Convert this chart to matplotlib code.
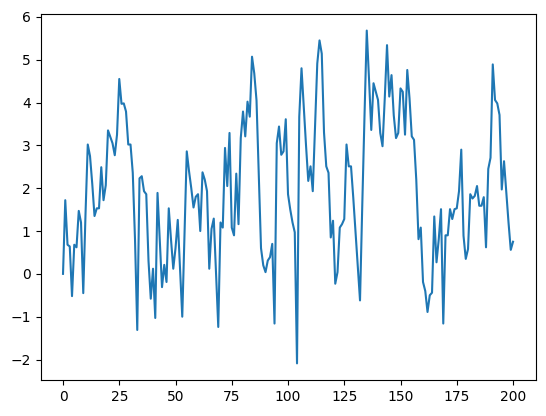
import matplotlib
matplotlib.use("Agg")
import matplotlib.pyplot as plt
import numpy as np

# values, one per step 0..200
steps = np.arange(201)
values = [
    0.0, 1.72, 0.68, 0.64, -0.52, 0.68, 0.62, 1.47, 1.2, -0.45,
    1.4, 3.02, 2.75, 2.1, 1.35, 1.53, 1.53, 2.49, 1.72, 2.07,
    3.35, 3.2, 3.05, 2.77, 3.25, 4.55, 3.97, 3.98, 3.79, 3.02,
    3.02, 2.36, 0.8, -1.31, 2.23, 2.28, 1.93, 1.86, 0.3, -0.58,
    0.12, -1.03, 1.89, 0.8, -0.31, 0.21, -0.19, 1.53, 0.8, 0.12,
    0.6, 1.26, 0.15, -1.0, 0.9, 2.86, 2.4, 2.0, 1.55, 1.8,
    1.86, 1.0, 2.37, 2.2, 1.93, 0.12, 1.05, 1.29, 0.0, -1.24,
    1.2, 1.08, 2.94, 2.05, 3.29, 1.08, 0.9, 2.34, 1.16, 3.17,
    3.79, 3.21, 4.02, 3.67, 5.07, 4.68, 4.05, 2.3, 0.6, 0.2,
    0.04, 0.31, 0.39, 0.7, -1.16, 3.05, 3.44, 2.78, 2.86, 3.61,
    1.86, 1.5, 1.2, 0.97, -2.09, 3.67, 4.8, 3.9, 3.0, 2.17,
    2.51, 1.93, 3.4, 4.91, 5.45, 5.14, 3.3, 2.51, 2.36, 0.85,
    1.24, -0.23, 0.04, 1.08, 1.16, 1.28, 3.02, 2.51, 2.51, 1.78,
    0.98, 0.2, -0.62, 1.6, 3.7, 5.68, 4.55, 3.36, 4.45, 4.25,
    4.06, 3.29, 2.98, 4.1, 5.34, 4.14, 4.64, 3.7, 3.17, 3.29,
    4.33, 4.25, 3.25, 4.76, 4.1, 3.21, 3.13, 2.2, 0.81, 1.08,
    -0.19, -0.4, -0.89, -0.5, -0.44, 1.34, 0.27, 0.81, 1.51, -1.16,
    0.9, 0.9, 1.51, 1.28, 1.51, 1.53, 1.93, 2.9, 0.89, 0.35,
    0.58, 1.86, 1.76, 1.82, 2.05, 1.59, 1.59, 1.79, 0.62, 2.45,
    2.71, 4.89, 4.06, 3.98, 3.71, 1.97, 2.63, 1.9, 1.2, 0.56,
    0.75,
]

fig = plt.figure(figsize=(5.46, 4.16), dpi=100)
ax = fig.add_axes([0.0742, 0.0865, 0.9066, 0.880])
ax.plot(steps, values)
fig.savefig("out.png")
plt.close(fig)
